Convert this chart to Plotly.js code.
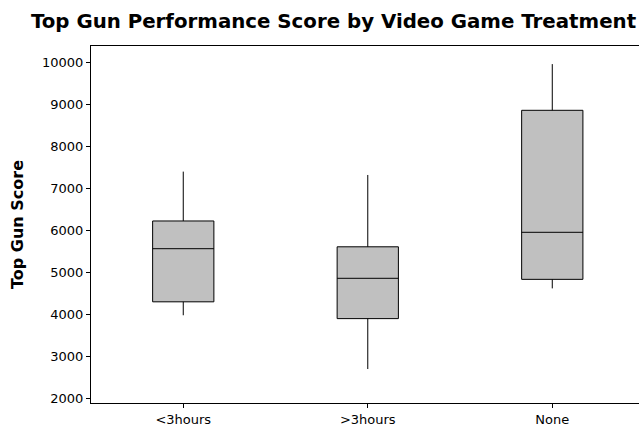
<!DOCTYPE html>
<html>
<head>
<meta charset="utf-8">
<script src="https://cdn.plot.ly/plotly-3.0.1.min.js"></script>
<style>
  html, body { margin: 0; padding: 0; background: #ffffff; }
  #chart { width: 639px; height: 430px; }
</style>
</head>
<body>
<div id="chart"></div>
<script>
// Five-number summaries of Top Gun scores for each video game treatment group
const treatments = ["<3hours", ">3hours", "None"];
const lowerWhisker = [3970, 2690, 4610];
const q1 = [4290, 3890, 4825];
const median = [5555, 4850, 5945];
const q3 = [6215, 5600, 8850];
const upperWhisker = [7390, 7310, 9950];

const yTicks = [2000, 3000, 4000, 5000, 6000, 7000, 8000, 9000, 10000];

const trace = {
  type: "box",
  x: treatments,
  lowerfence: lowerWhisker,
  q1: q1,
  median: median,
  q3: q3,
  upperfence: upperWhisker,
  fillcolor: "#c0c0c0",
  line: { color: "#000000", width: 1 },
  whiskerwidth: 0,
  width: 0.332,
  boxpoints: false,
  hoverinfo: "skip",
  showlegend: false
};

const layout = {
  width: 639,
  height: 430,
  margin: { l: 91, r: 0, t: 46, b: 27 },
  paper_bgcolor: "#ffffff",
  plot_bgcolor: "#ffffff",
  font: { family: "DejaVu Sans, Verdana, sans-serif", size: 13, color: "#000000" },
  title: {
    text: "<b>Top Gun Performance Score by Video Game Treatment</b>",
    font: { family: "DejaVu Sans, Verdana, sans-serif", size: 19.8, color: "#000000" },
    x: 333.5 / 639,
    xref: "container",
    xanchor: "center",
    y: 1 - 21 / 430,
    yref: "container",
    yanchor: "middle"
  },
  xaxis: {
    type: "category",
    range: [-0.5, 2.47],
    showline: true,
    linecolor: "#000000",
    linewidth: 1,
    mirror: true,
    ticks: "outside",
    ticklen: 4,
    tickcolor: "#000000",
    showgrid: false,
    zeroline: false,
    tickfont: { size: 13, color: "#000000" }
  },
  yaxis: {
    range: [1881, 10381],
    tickvals: yTicks,
    ticktext: yTicks.map(String),
    showline: true,
    linecolor: "#000000",
    linewidth: 1,
    ticks: "outside",
    ticklen: 4,
    tickcolor: "#000000",
    showgrid: false,
    zeroline: false,
    automargin: true,
    tickfont: { size: 13, color: "#000000" },
    title: {
      text: "<b>Top Gun Score</b>",
      font: { family: "DejaVu Sans, Verdana, sans-serif", size: 16, color: "#000000" },
      standoff: 14
    }
  }
};

Plotly.newPlot("chart", [trace], layout, { staticPlot: true, displayModeBar: false });
</script>
</body>
</html>
